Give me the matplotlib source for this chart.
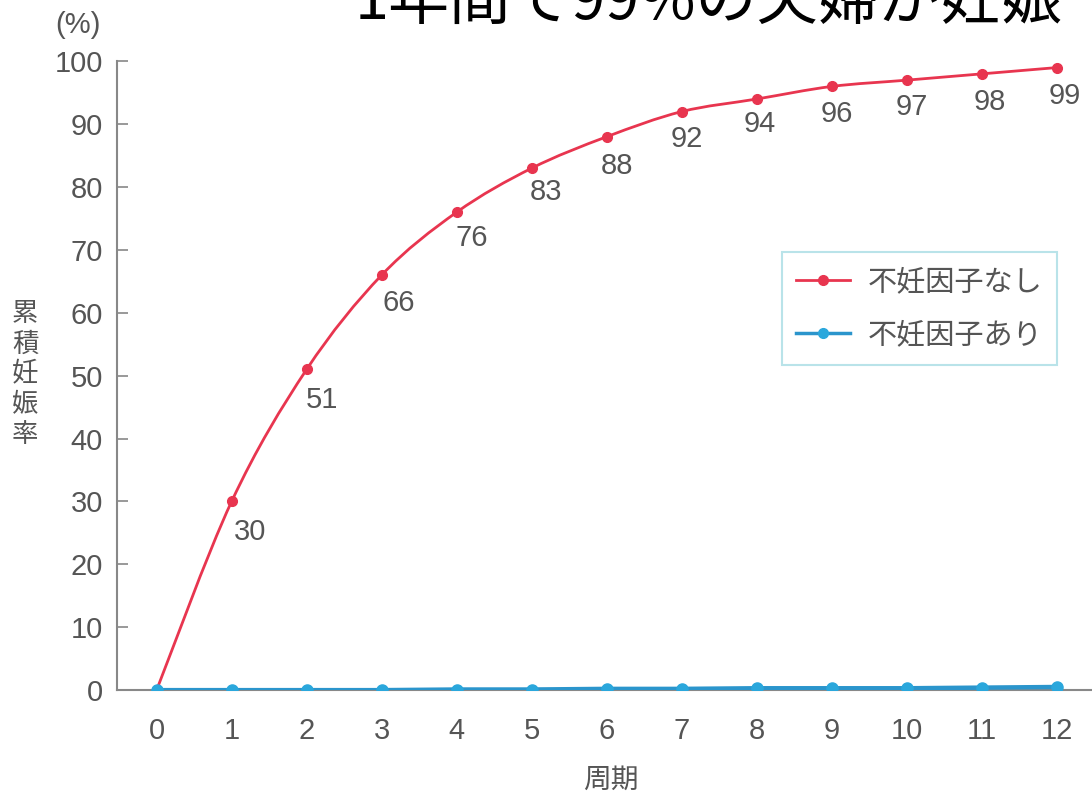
import matplotlib
matplotlib.use("Agg")
import matplotlib.pyplot as plt
from matplotlib.path import Path
from matplotlib.patches import PathPatch
from matplotlib.lines import Line2D

cycles = list(range(13))
no_factor = [0, 30, 51, 66, 76, 83, 88, 92, 94, 96, 97, 98, 99]
with_factor = [0, 0, 0, 0, 0.1, 0.1, 0.2, 0.2, 0.3, 0.3, 0.3, 0.4, 0.5]
label_values = [30, 51, 66, 76, 83, 88, 92, 94, 96, 97, 98, 99]
yticks = list(range(0, 101, 10))
legend_labels = ["不妊因子なし", "不妊因子あり"]
title = "1年間で99%の夫婦が妊娠"

# label offsets in pixels (style only)
label_dx = [18, 15, 17, 15, 14, 10, 5, 3, 5, 5, 8, 8]
label_dy = [31, 31, 28, 26, 24, 29, 27, 25, 28, 27, 28, 28]

cjk = ["Noto Sans CJK JP", "DejaVu Sans"]
num_font = ["Liberation Sans", "DejaVu Sans"]
gray = "#555555"
red = "#e8354f"
blue = "#2aa7dc"
blue_line = "#2b95cc"

fig = plt.figure(figsize=(10.92, 7.96), dpi=100)
ax = fig.add_axes([0.107, 0.133, 0.893, 0.79])


def smooth_path(xs, ys):
    pts = list(zip(xs, ys))
    verts = [pts[0]]
    codes = [Path.MOVETO]
    n = len(pts)
    for i in range(n - 1):
        p0 = pts[i - 1] if i > 0 else pts[i]
        p1 = pts[i]
        p2 = pts[i + 1]
        p3 = pts[i + 2] if i + 2 < n else pts[i + 1]
        c1 = (p1[0] + (p2[0] - p0[0]) / 6, p1[1] + (p2[1] - p0[1]) / 6)
        c2 = (p2[0] - (p3[0] - p1[0]) / 6, p2[1] - (p3[1] - p1[1]) / 6)
        verts += [c1, c2, p2]
        codes += [Path.CURVE4] * 3
    return Path(verts, codes)


ax.add_patch(PathPatch(smooth_path(cycles, no_factor), fill=False, edgecolor=red, lw=2, zorder=3))
ax.plot(cycles, no_factor, color=red, ls="none", marker="o", ms=7, zorder=3)
ax.plot(cycles, with_factor, color=blue_line, lw=3.2, zorder=4)
ax.plot(cycles, with_factor, color=blue, ls="none", marker="o", ms=8, zorder=5)

for x, v, dx, dy in zip(cycles[1:], label_values, label_dx, label_dy):
    ax.annotate(str(v), (x, no_factor[x]), xytext=(dx * 0.72, -dy * 0.72), textcoords="offset points",
                ha="center", va="center", fontsize=21, color=gray, family=num_font)

ax.set_xlim(-0.53, 12.47)
ax.set_ylim(0, 100)
ax.set_xticks(cycles)
ax.set_yticks(yticks)
ax.tick_params(axis="x", length=0, pad=19, labelsize=21, labelcolor=gray)
ax.tick_params(axis="y", direction="in", length=8, width=1.2, color="#888888", pad=10, labelsize=21, labelcolor=gray)
for lab in ax.get_xticklabels() + ax.get_yticklabels():
    lab.set_family(num_font)

for s in ["top", "right"]:
    ax.spines[s].set_visible(False)
for s in ["left", "bottom"]:
    ax.spines[s].set_color("#888888")
    ax.spines[s].set_linewidth(1.5)

fig.text(0.559, 0.021, "周期", family=cjk, fontsize=20, color=gray, ha="center", va="center")
fig.text(0.023, 0.530, "\n".join("累積妊娠率"), family=cjk, fontsize=19, color=gray,
         ha="center", va="center", linespacing=1.15)
fig.text(0.071, 0.969, "(%)", family=num_font, fontsize=21, color=gray, ha="center", va="center")

handles = [
    Line2D([], [], color=red, lw=2, marker="o", ms=7),
    Line2D([], [], color=blue_line, lw=2.5, marker="o", ms=7, markerfacecolor=blue, markeredgecolor=blue),
]
leg = ax.legend(handles, legend_labels, loc="upper left", bbox_to_anchor=(0.682, 0.696),
                prop={"family": cjk, "size": 21},
                frameon=True, fancybox=False, borderpad=0.5, labelspacing=0.8, handlelength=1.85,
                handletextpad=0.6, borderaxespad=0)
leg.get_frame().set_edgecolor("#a8dce4")
leg.get_frame().set_linewidth(1.5)
for t in leg.get_texts():
    t.set_color(gray)

fig.text(0.325, 0.976, title, family=cjk, fontsize=44, color="black", ha="left", va="baseline")

fig.savefig("out.png", dpi=100)
